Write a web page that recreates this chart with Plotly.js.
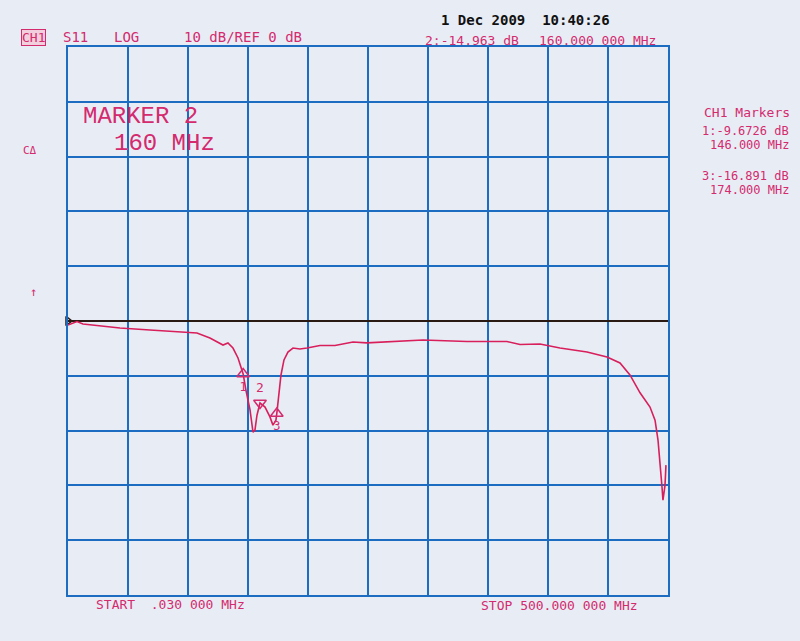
<!DOCTYPE html>
<html>
<head>
<meta charset="utf-8">
<script src="https://cdn.plot.ly/plotly-3.0.1.min.js"></script>
<style>
html,body{margin:0;padding:0;background:#e8edf5;}
#chart{width:800px;height:641px;}
</style>
</head>
<body>
<div id="chart"></div>
<script>
// ---- data ----
const freqMHz = [0.03, 3.3, 7.5, 12.5, 20.8, 43.3, 68.3, 99.2, 107.5, 118.3,
  129.2, 133.3, 137.5, 141.7, 146, 148.3, 151.7, 154.2, 155.8, 157.5,
  160, 164.2, 168.3, 170.8, 173.3, 174, 175.8, 177.5, 180, 183.3,
  187.5, 193.3, 199.2, 210, 222.5, 237.5, 249, 276.7, 295.8, 332.5,
  365.8, 376.7, 393.3, 410, 432.5, 449.2, 460, 468.3, 476.7, 485,
  489.2, 491.7, 493.3, 495, 495.8, 497.5, 498.3];
const s11dB = [-0.73, -0.4, -0.1, -0.55, -0.73, -1.28, -1.64, -2.0, -2.19, -3.1,
  -4.38, -4.0, -4.93, -6.75, -9.67, -12.6, -16.2, -20.3, -19.9, -17.2,
  -14.96, -15.7, -17.5, -19.0, -18.1, -16.89, -13.5, -9.85, -7.1, -5.66,
  -4.93, -5.1, -4.93, -4.47, -4.47, -3.83, -4.0, -3.65, -3.47, -3.74,
  -3.74, -4.29, -4.2, -4.93, -5.66, -6.57, -7.66, -9.85, -13.1, -15.7,
  -18.1, -21.8, -25.4, -30.3, -32.7, -30.0, -26.3];
const markerFreq = [146, 160, 174];
const markerDb = [-9.6726, -14.963, -16.891];
const markerLabels = ['1', '2', '3'];
const refFreq = [0.03, 500];
const refDb = [0, 0];
const startMHz = 0.03, stopMHz = 500;
const dbPerDiv = 10, refLevel = 0;

// ---- styling ----
const magenta = '#d42a6e';
const gridBlue = '#1c6cc2';
const bg = '#e8edf5';
const L = 68, R = 668, T = 47, B = 595;
const W = 800, H = 641;
function px(x) { return (x - L) / (R - L); }
function py(y) { return (B - y) / (B - T); }
const mono = 'DejaVu Sans Mono, monospace';

function txt(x, y, text, size, color, opts) {
  return Object.assign({
    xref: 'paper', yref: 'paper', x: px(x), y: py(y), text: text,
    showarrow: false, xanchor: 'left', yanchor: 'middle',
    font: {family: mono, size: size, color: color}
  }, opts || {});
}

const traces = [
  {x: refFreq, y: refDb, mode: 'lines', line: {color: '#2a1a14', width: 2},
   hoverinfo: 'skip', showlegend: false},
  {x: [refFreq[0]], y: [refDb[0]], mode: 'markers', cliponaxis: false,
   marker: {symbol: 'triangle-right-open', size: 8, color: '#2a1a14', line: {width: 1.5, color: '#2a1a14'}},
   showlegend: false, hoverinfo: 'skip'},
  {x: freqMHz, y: s11dB, mode: 'lines', line: {color: '#d81f5c', width: 1.6},
   showlegend: false},
  {x: [markerFreq[0], markerFreq[2]], y: [markerDb[0], markerDb[2]],
   text: [markerLabels[0], markerLabels[2]], mode: 'markers+text',
   textposition: 'bottom center', textfont: {family: mono, size: 12, color: magenta},
   marker: {symbol: 'triangle-up-open', size: 11, color: magenta, line: {width: 1.5, color: magenta}},
   showlegend: false},
  {x: [markerFreq[1]], y: [markerDb[1]], text: [markerLabels[1]], mode: 'markers+text',
   textposition: 'top center', textfont: {family: mono, size: 13, color: magenta},
   marker: {symbol: 'triangle-down-open', size: 11, color: magenta, line: {width: 1.5, color: magenta}},
   showlegend: false}
];

const annotations = [
  txt(21, 37, 'CH1', 13, magenta, {bordercolor: magenta, borderwidth: 1, borderpad: 0, bgcolor: '#f2cfdc'}),
  txt(61, 37, 'S11', 14, magenta),
  txt(112, 37, 'LOG', 14, magenta),
  txt(182, 37, dbPerDiv + ' dB/REF ' + refLevel + ' dB', 14, magenta),
  txt(439, 20, '1 Dec 2009  10:40:26', 14, '#111111', {font: {family: mono, size: 14, color: '#111111', weight: 'bold'}}),
  txt(423, 40, '2:' + markerDb[1].toFixed(3) + ' dB', 13, magenta),
  txt(537, 40, '160.000 000 MHz', 13, magenta),
  txt(81, 116, 'MARKER 2', 24, magenta, {font: {family: 'Liberation Mono', size: 24, color: magenta}}),
  txt(112, 143, '160 MHz', 24, magenta, {font: {family: 'Liberation Mono', size: 24, color: magenta}}),
  txt(702, 112, 'CH1 Markers', 13, magenta),
  txt(791, 131, '1:' + markerDb[0].toFixed(4) + ' dB', 12, magenta, {xanchor: 'right'}),
  txt(791, 145, '146.000 MHz', 12, magenta, {xanchor: 'right'}),
  txt(791, 176, '3:' + markerDb[2].toFixed(3) + ' dB', 12, magenta, {xanchor: 'right'}),
  txt(791, 190, '174.000 MHz', 12, magenta, {xanchor: 'right'}),
  txt(21, 150, 'CΔ', 11, magenta),
  txt(28, 292, '↑', 12, magenta),
  txt(94, 604, 'START  .030 000 MHz', 13, magenta),
  txt(479, 605, 'STOP 500.000 000 MHz', 13, magenta)
];

const layout = {
  width: W, height: H,
  margin: {l: L, r: W - R, t: T, b: H - B},
  paper_bgcolor: bg, plot_bgcolor: bg,
  showlegend: false,
  xaxis: {range: [startMHz, stopMHz], tick0: startMHz, dtick: (stopMHz - startMHz) / 10,
    showgrid: true, gridcolor: gridBlue, gridwidth: 2, zeroline: false,
    showline: true, linecolor: gridBlue, linewidth: 2, mirror: true,
    showticklabels: false, ticks: ''},
  yaxis: {range: [refLevel - 5 * dbPerDiv, refLevel + 5 * dbPerDiv], tick0: 0, dtick: dbPerDiv,
    showgrid: true, gridcolor: gridBlue, gridwidth: 2, zeroline: false,
    showline: true, linecolor: gridBlue, linewidth: 2, mirror: true,
    showticklabels: false, ticks: ''},
  annotations: annotations
};

Plotly.newPlot('chart', traces, layout, {displayModeBar: false, staticPlot: true});
</script>
</body>
</html>
